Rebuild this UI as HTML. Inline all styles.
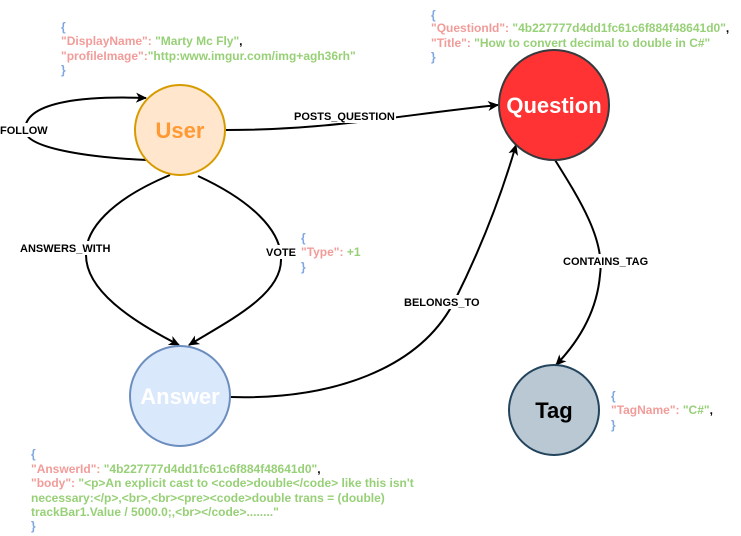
<!DOCTYPE html>
<html><head><meta charset="utf-8"><style>
html,body{margin:0;padding:0;background:#fff;}
svg{display:block;}
text{font-family:"Liberation Sans",Arial,sans-serif;}
.j{font-size:12px;font-weight:bold;}
.b{fill:#7EA6E0;}.r{fill:#F19C99;}.g{fill:#97D077;}.k{fill:#000;}
.l{font-size:11px;font-weight:bold;fill:#000;}
</style></head><body>
<svg width="741" height="536" viewBox="0 0 741 536" xmlns="http://www.w3.org/2000/svg">
<defs><marker id="a" markerWidth="12" markerHeight="12" refX="10" refY="5" orient="auto" markerUnits="userSpaceOnUse"><path d="M0,0 L11,5 L0,10 L3,5 z" fill="#000"/></marker></defs>
<g fill="none" stroke="#000" stroke-width="2">
<path d="M147,160 C100,158 25,150 25,130 C25,100 90,96 146,98" marker-end="url(#a)"/>
<path d="M226,130 C330,130 400,115 498,105" marker-end="url(#a)"/>
<path d="M170,175 C110,200 85,230 86,255 C86,290 130,320 179,345" marker-end="url(#a)"/>
<path d="M198,176 C250,200 282,230 281,260 C281,295 230,320 189,345" marker-end="url(#a)"/>
<path d="M230,397 C330,400 420,370 455,300 C480,250 500,200 516,145" marker-end="url(#a)"/>
<path d="M555,160 C580,200 605,240 600,275 C597,310 580,340 556,365" marker-end="url(#a)"/>
</g>
<rect x="0" y="123" width="48" height="14" fill="#fff"/>
<text class="l" x="0" y="134">FOLLOW</text>
<rect x="292" y="109" width="104" height="14" fill="#fff"/>
<text class="l" x="294" y="120">POSTS_QUESTION</text>
<rect x="18" y="241" width="94" height="14" fill="#fff"/>
<text class="l" x="20" y="252">ANSWERS_WITH</text>
<rect x="264" y="245" width="34" height="14" fill="#fff"/>
<text class="l" x="266" y="256">VOTE</text>
<rect x="402" y="295" width="80" height="14" fill="#fff"/>
<text class="l" x="404" y="306">BELONGS_TO</text>
<rect x="561" y="254" width="90" height="14" fill="#fff"/>
<text class="l" x="563" y="265">CONTAINS_TAG</text>

<circle cx="180" cy="130" r="45" fill="#ffe6cc" stroke="#d79b00" stroke-width="2"/>
<text x="180" y="138" text-anchor="middle" font-size="22" font-weight="bold" fill="#FF9933">User</text>
<circle cx="554" cy="105" r="55" fill="#FF3333" stroke="#36393d" stroke-width="2"/>
<text x="554" y="113" text-anchor="middle" font-size="22" font-weight="bold" fill="#fff">Question</text>
<circle cx="180" cy="396" r="50" fill="#dae8fc" stroke="#6c8ebf" stroke-width="2"/>
<text x="180" y="404" text-anchor="middle" font-size="22" font-weight="bold" fill="#fff">Answer</text>
<circle cx="554" cy="410" r="45" fill="#bac8d3" stroke="#23445d" stroke-width="2"/>
<text x="554" y="418" text-anchor="middle" font-size="22" font-weight="bold" fill="#000">Tag</text>

<g class="j">
<text x="61" y="31" class="b">{</text>
<text x="61" y="45"><tspan class="r">"DisplayName": </tspan><tspan class="g">"Marty Mc Fly"</tspan><tspan class="k">,</tspan></text>
<text x="61" y="60"><tspan class="r">"profileImage":</tspan><tspan class="g">"http:www.imgur.com/img+agh36rh"</tspan></text>
<text x="61" y="74" class="b">}</text>

<text x="431" y="19" class="b">{</text>
<text x="431" y="32"><tspan class="r">"QuestionId": </tspan><tspan class="g">"4b227777d4dd1fc61c6f884f48641d0"</tspan><tspan class="k">,</tspan></text>
<text x="431" y="47"><tspan class="r">"Title": </tspan><tspan class="g">"How to convert decimal to double in C#"</tspan></text>
<text x="431" y="61" class="b">}</text>

<text x="301" y="242" class="b">{</text>
<text x="301" y="256"><tspan class="r">"Type": </tspan><tspan class="g">+1</tspan></text>
<text x="301" y="271" class="b">}</text>

<text x="611" y="400" class="b">{</text>
<text x="611" y="414"><tspan class="r">"TagName": </tspan><tspan class="g">"C#"</tspan><tspan class="k">,</tspan></text>
<text x="611" y="429" class="b">}</text>

<text x="31" y="458" class="b">{</text>
<text x="31" y="473"><tspan class="r">"AnswerId": </tspan><tspan class="g">"4b227777d4dd1fc61c6f884f48641d0"</tspan><tspan class="k">,</tspan></text>
<text x="31" y="487"><tspan class="r">"body": </tspan><tspan class="g">"&lt;p&gt;An explicit cast to &lt;code&gt;double&lt;/code&gt; like this isn't</tspan></text>
<text x="31" y="502" class="g">necessary:&lt;/p&gt;,&lt;br&gt;,&lt;br&gt;&lt;pre&gt;&lt;code&gt;double trans = (double)</text>
<text x="31" y="516" class="g">trackBar1.Value / 5000.0;,&lt;br&gt;&lt;/code&gt;........"</text>
<text x="31" y="530" class="b">}</text>
</g>
</svg>
</body></html>
